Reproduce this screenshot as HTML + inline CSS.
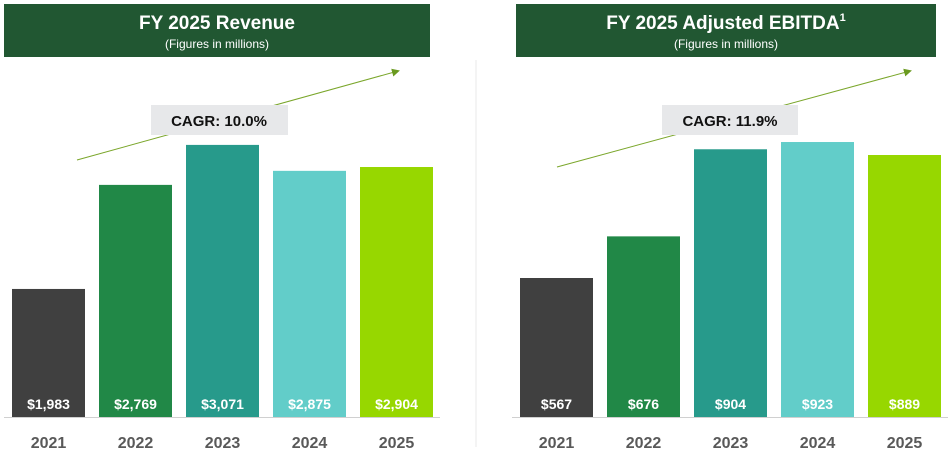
<!DOCTYPE html>
<html><head><meta charset="utf-8"><style>
body{margin:0;background:#fff;width:948px;height:457px;overflow:hidden;font-family:"Liberation Sans",sans-serif}
</style></head><body>
<svg width="948" height="457" id="svg">
<defs><marker id="ah" markerWidth="8" markerHeight="8" refX="6" refY="4" orient="auto" markerUnits="userSpaceOnUse"><path d="M0,0 L8,4 L0,8 z" fill="#6a9a1f"/></marker></defs>
<line x1="476" y1="60" x2="476" y2="447" stroke="#e8e8e8"/>
<rect x="4" y="4" width="426" height="53" fill="#215732"/>
<text x="217" y="29" fill="#fff" font-size="19" font-weight="bold" text-anchor="middle">FY 2025 Revenue</text>
<text x="217" y="48" fill="#fff" font-size="12" text-anchor="middle">(Figures in millions)</text>
<rect x="516" y="4" width="420" height="53" fill="#215732"/>
<text x="726" y="29" fill="#fff" font-size="19" font-weight="bold" text-anchor="middle">FY 2025 Adjusted EBITDA<tspan font-size="11" dy="-8">1</tspan></text>
<text x="726" y="48" fill="#fff" font-size="12" text-anchor="middle">(Figures in millions)</text>
<line x1="77" y1="160" x2="398" y2="71" stroke="#7aa62a" stroke-width="1" marker-end="url(#ah)"/>
<rect x="151" y="105" width="137" height="30" fill="#e7e8ea"/>
<text x="219" y="126" font-size="15" font-weight="bold" fill="#111" text-anchor="middle">CAGR: 10.0%</text>
<line x1="557" y1="167" x2="910" y2="71" stroke="#7aa62a" stroke-width="1" marker-end="url(#ah)"/>
<rect x="662" y="105" width="136" height="30" fill="#e7e8ea"/>
<text x="730" y="126" font-size="15" font-weight="bold" fill="#111" text-anchor="middle">CAGR: 11.9%</text>
<g id="left"></g><g id="right"></g>
</svg>
<script>
const years=["2021","2022","2023","2024","2025"];
const revenue=[1983,2769,3071,2875,2904];
const revenueLabels=["$1,983","$2,769","$3,071","$2,875","$2,904"];
const ebitda=[567,676,904,923,889];
const ebitdaLabels=["$567","$676","$904","$923","$889"];
const colors=["#404040","#218847","#279a8b","#62cdc9","#97d700"];
const NS="http://www.w3.org/2000/svg";
function mk(tag,attrs,parent){const e=document.createElementNS(NS,tag);for(const k in attrs)e.setAttribute(k,attrs[k]);parent.appendChild(e);return e;}
function draw(g,vals,labels,x0,step,slope,intercept,axisX1,axisX2,prefix){
  const base=417;
  const y=v=>base-(slope*v+intercept);
  const ax=mk('line',{x1:axisX1,y1:base+0.5,x2:axisX2,y2:base+0.5,stroke:'#d0d0d0'},g);
  
  
  vals.forEach((v,i)=>{
    const x=x0+i*step;
    const r=mk('rect',{x:x,y:y(v),width:73,height:base-y(v),fill:colors[i]},g);
    
    
    const t=mk('text',{x:x+36.5,y:409,fill:'#fff','font-size':14,'font-weight':'bold','text-anchor':'middle'},g);
    t.textContent=labels[i];
    
    
    const yl=mk('text',{x:x+36.5,y:448,fill:'#595959','font-size':16,'font-weight':'bold','text-anchor':'middle'},g);
    yl.textContent=years[i];
    
    
  });
}
draw(document.getElementById('left'),revenue,revenueLabels,12,87,0.1324,-134.5,4,440,'revenue');
draw(document.getElementById('right'),ebitda,ebitdaLabels,520,87,0.382,-77.6,512,948,'ebitda');
</script>
</body></html>
